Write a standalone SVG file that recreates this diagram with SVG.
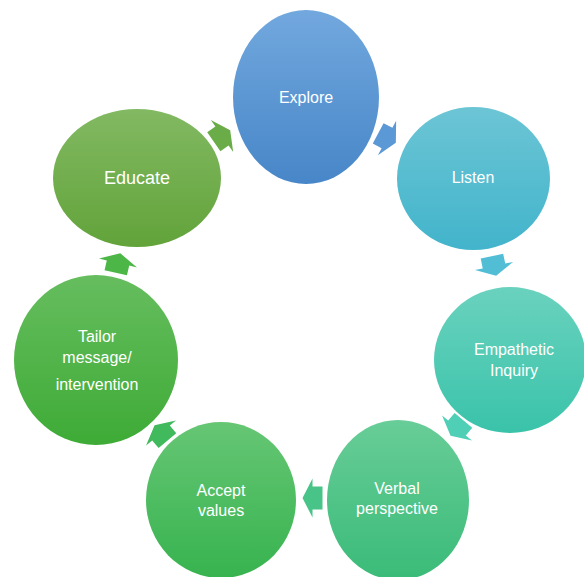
<svg xmlns="http://www.w3.org/2000/svg" width="584" height="577" viewBox="0 0 584 577">
<defs>
<linearGradient id="gExplore" x1="0" y1="0" x2="0" y2="1"><stop offset="0" stop-color="#72a8de"/><stop offset="1" stop-color="#4786c8"/></linearGradient>
<linearGradient id="gListen" x1="0" y1="0" x2="0" y2="1"><stop offset="0" stop-color="#6cc5d5"/><stop offset="1" stop-color="#42b4cb"/></linearGradient>
<linearGradient id="gEmp" x1="0" y1="0" x2="0" y2="1"><stop offset="0" stop-color="#6ad2be"/><stop offset="1" stop-color="#3ac3aa"/></linearGradient>
<linearGradient id="gVerbal" x1="0" y1="0" x2="0" y2="1"><stop offset="0" stop-color="#68cd98"/><stop offset="1" stop-color="#3abb78"/></linearGradient>
<linearGradient id="gAccept" x1="0" y1="0" x2="0" y2="1"><stop offset="0" stop-color="#66c674"/><stop offset="1" stop-color="#37b34f"/></linearGradient>
<linearGradient id="gTailor" x1="0" y1="0" x2="0" y2="1"><stop offset="0" stop-color="#66bd5e"/><stop offset="1" stop-color="#3eab36"/></linearGradient>
<linearGradient id="gEducate" x1="0" y1="0" x2="0" y2="1"><stop offset="0" stop-color="#82b962"/><stop offset="1" stop-color="#62a33a"/></linearGradient>
<polygon id="arr" points="-10,-11.5 0,-11.5 0,-19.5 10,0 0,19.5 0,11.5 -10,11.5"/>
</defs>
<style>
text{font-family:"Liberation Sans",Arial,sans-serif;font-size:16px;fill:#ffffff;text-anchor:middle}
.big{font-size:18px}
</style>
<rect width="584" height="577" fill="#ffffff"/>
<g id="connectors">
<use href="#arr" fill="#6aac48" transform="translate(222,136) rotate(-35)"/>
<use href="#arr" fill="#5a98d6" transform="translate(387,138) rotate(28)"/>
<use href="#arr" fill="#52bed6" transform="translate(494,266) rotate(78)"/>
<use href="#arr" fill="#4ecfb6" transform="translate(457,428) rotate(130)"/>
<use href="#arr" fill="#48c488" transform="translate(312.5,498) rotate(180)"/>
<use href="#arr" fill="#40ba5c" transform="translate(161,433) rotate(-130)"/>
<use href="#arr" fill="#4cb646" transform="translate(118,263) rotate(-77)"/>
</g>
<g id="explore"><ellipse cx="306" cy="97" rx="73" ry="87" fill="url(#gExplore)"/><text x="306" y="103">Explore</text></g>
<g id="listen"><ellipse cx="473.5" cy="178.5" rx="76.5" ry="71.5" fill="url(#gListen)"/><text x="473" y="183">Listen</text></g>
<g id="empathetic"><ellipse cx="510" cy="360" rx="76" ry="73" fill="url(#gEmp)"/><text x="514" y="355">Empathetic</text><text x="514" y="376">Inquiry</text></g>
<g id="verbal"><ellipse cx="398" cy="500" rx="71" ry="80" fill="url(#gVerbal)"/><text x="397" y="494">Verbal</text><text x="397" y="514">perspective</text></g>
<g id="accept"><ellipse cx="221" cy="500" rx="75" ry="78" fill="url(#gAccept)"/><text x="221" y="496">Accept</text><text x="221" y="516">values</text></g>
<g id="tailor"><ellipse cx="96" cy="360" rx="82" ry="85" fill="url(#gTailor)"/><text x="97" y="342">Tailor</text><text x="97" y="363">message/</text><text x="97" y="390">intervention</text></g>
<g id="educate"><ellipse cx="137" cy="178" rx="84" ry="69" fill="url(#gEducate)"/><text class="big" x="137" y="184">Educate</text></g>
</svg>
